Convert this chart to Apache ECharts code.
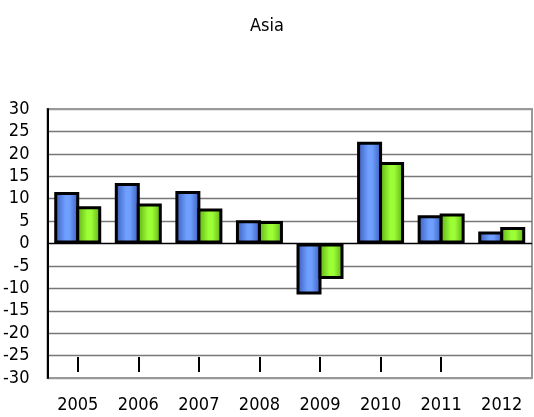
<!DOCTYPE html>
<html><head><meta charset="utf-8">
<script src="https://cdn.jsdelivr.net/npm/echarts@6/dist/echarts.min.js"></script>
<style>html,body{margin:0;padding:0;background:#fff}#c{width:534px;height:417px}</style>
</head><body><div id="c"></div>
<script>
const categories = ['2005','2006','2007','2008','2009','2010','2011','2012'];
const seriesA = [11.5, 13.5, 11.7, 5.2, -11.4, 22.7, 6.3, 2.7];
const seriesB = [8.3, 8.9, 7.8, 5.0, -7.9, 18.2, 6.7, 3.7];
const yMin = -30, yMax = 30, yStep = 5;

const font = "'DejaVu Sans Condensed',sans-serif";
function grad(edge, mid) {
  return new echarts.graphic.LinearGradient(0, 0, 1, 0, [
    {offset: 0, color: edge}, {offset: 0.45, color: mid}, {offset: 0.6, color: mid}, {offset: 1, color: edge}
  ]);
}
const lineColors = [];
for (let v = yMin; v <= yMax; v += yStep) {
  lineColors.push(v === 0 ? '#000' : (v === yMin || v === yMax ? '#999' : '#777'));
}
const chart = echarts.init(document.getElementById('c'));
chart.setOption({
  animation: false,
  title: {text: 'Asia', left: 'center', top: 12, textStyle: {fontFamily: font, fontSize: 18, fontWeight: 'normal', color: '#000'}},
  grid: {left: 47, right: 2, top: 109, bottom: 39, show: true, borderColor: '#999', borderWidth: 2},
  xAxis: [{
    type: 'category', data: categories, position: 'bottom',
    axisLine: {show: false}, axisTick: {show: false},
    axisLabel: {fontFamily: font, fontSize: 18, color: '#000', margin: 18}
  }, {
    type: 'category', data: categories, position: 'bottom', offset: -6,
    axisLine: {show: false}, axisLabel: {show: false},
    axisTick: {show: true, inside: true, length: 15, alignWithLabel: true,
      interval: (i) => i < categories.length - 1,
      lineStyle: {color: '#000', width: 2}}
  }],
  yAxis: {
    type: 'value', min: yMin, max: yMax, interval: yStep,
    axisLine: {show: true, lineStyle: {color: '#000', width: 2}},
    axisTick: {show: false},
    axisLabel: {fontFamily: font, fontSize: 18, color: '#000', margin: 18},
    splitLine: {show: true, lineStyle: {color: lineColors, width: 1.3}}
  },
  series: [{
    type: 'bar', data: seriesA, barWidth: 25, barGap: '-12%',
    itemStyle: {color: grad('#3557b8', '#6fa0ff'), borderColor: '#000', borderWidth: 3}
  }, {
    type: 'bar', data: seriesB, barWidth: 25, barGap: '-12%',
    itemStyle: {color: grad('#5aa812', '#9cff36'), borderColor: '#000', borderWidth: 3}
  }]
});
</script></body></html>
